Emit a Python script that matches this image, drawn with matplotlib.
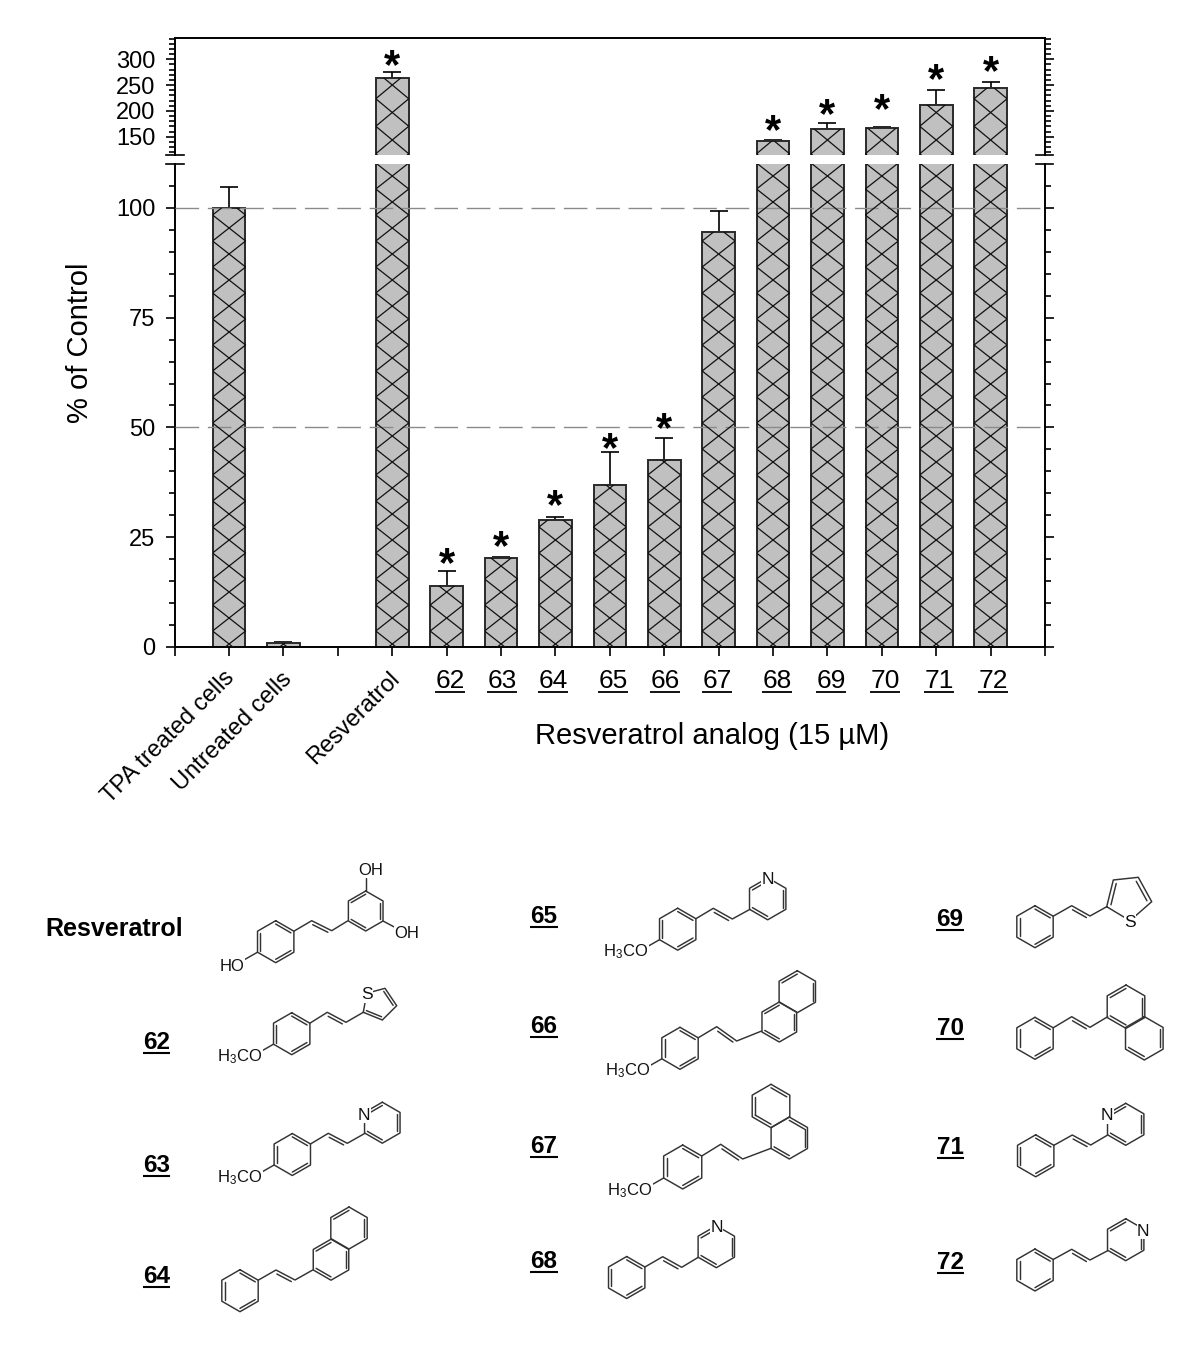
import numpy as np
import matplotlib
matplotlib.use("Agg")
import matplotlib.pyplot as plt
from matplotlib.patches import Rectangle

plt.rcParams['font.family'] = ['Liberation Sans', 'DejaVu Sans']
plt.rcParams['mathtext.default'] = 'regular'

# chart data
names = ["TPA treated cells", "Untreated cells", "Resveratrol", "62", "63", "64", "65", "66",
         "67", "68", "69", "70", "71", "72"]
positions = [1, 2, 4, 5, 6, 7, 8, 9, 10, 11, 12, 13, 14, 15]
values = [100, 1, 263, 13.8, 20.3, 29, 37, 42.5, 94.5, 142, 164, 166, 212, 243.5]
errors = [4.8, 0.2, 13, 3.5, 0.3, 0.6, 7.4, 5.1, 4.8, 1, 13, 3, 29, 12]
significant = [False, False, True, True, True, True, True, True, False, True, True, True, True, True]
star_y = [59, 557, 540, 499, 442, 422, 124, 108, 103, 73, 65]
number_x = [450, 502, 553, 613, 665, 717, 777, 831, 885, 939, 993]
upper_ticks = [150, 200, 250, 300]
lower_ticks = [0, 25, 50, 75, 100]

W, H = 1200, 1366
L, R = 174.7, 1045
fig = plt.figure(figsize=(12, 13.66), dpi=100)


def axes_px(top, bottom):
    return fig.add_axes([L / W, 1 - bottom / H, (R - L) / W, (bottom - top) / H])


ax_low = axes_px(163.5, 647)
ax_up = axes_px(37.7, 155)
ax_low.set_ylim(0, 110.1)
ax_up.set_ylim(114.5, 341.9)

for ax in (ax_low, ax_up):
    ax.set_xlim(0, 16)
    ax.patch.set_alpha(0)
    bars = ax.bar(positions, values, width=0.6, color='#c0c0c0', edgecolor='#2a2a2a', linewidth=1.4, zorder=2)
    ax.errorbar(positions, values, yerr=[np.zeros(len(errors)), errors], fmt='none', ecolor='black',
                elinewidth=1.2, capsize=6.6, capthick=1.2, zorder=1)
    for s in ax.spines.values():
        s.set_linewidth(1.4)
    ax.yaxis.set_ticks_position('both')
    ax.tick_params(axis='y', which='major', direction='out', length=6.5, width=1.2, labelsize=17, pad=7.5, right=True)
    ax.tick_params(axis='y', which='minor', direction='out', length=4, width=1.2, right=True)

ax_low.set_yticks(lower_ticks)
ax_low.set_yticks(np.arange(5, 110, 5), minor=True)
ax_low.set_xticks(np.arange(0, 17))
ax_low.set_xticklabels([])
ax_low.tick_params(axis='x', direction='out', length=6.5, width=1.2)
ax_low.spines['top'].set_visible(False)
for y in (50, 100):
    ax_low.axhline(y, color='#8a8a8a', lw=1, linestyle=(0, (17, 6.3)), zorder=4)

ax_up.set_yticks(upper_ticks)
ax_up.set_yticks(np.arange(120, 341, 10), minor=True)
ax_up.set_xticks([])
ax_up.spines['bottom'].set_visible(False)

# overlay in picture pixels for hatching, labels and structures
pix = fig.add_axes([0, 0, 1, 1])
pix.set_xlim(0, W)
pix.set_ylim(H, 0)
pix.axis('off')
pix.patch.set_alpha(0)

# cross hatch of the bars (wider than a matplotlib hatch tile allows)
hw = 16.5
for ax, y0, period, y_top, y_bot in ((ax_low, 644, 26, 163.5, 647), (ax_up, 85, 27.5, 37.7, 155)):
    for x, val in zip(positions, values):
        cx, yv = ax.transData.transform((x, val))
        top = max(H - yv, y_top)
        if top >= y_bot:
            continue
        clip = Rectangle((cx - hw, top), 2 * hw, y_bot - top, transform=pix.transData)
        for k in np.arange(-40, 40):
            yc = y0 + k * period
            if yc < top - period or yc > y_bot + period:
                continue
            for sign in (1, -1):
                ln, = pix.plot([cx - hw, cx + hw], [yc - sign * period / 2, yc + sign * period / 2],
                               color='#111111', lw=0.9)
                ln.set_clip_path(clip)

# axis break ticks
for x0, x1 in ((165.5, 184), (1035.7, 1053)):
    for y in (155, 163.5):
        pix.plot([x0, x1], [y, y], color='black', lw=1.2)

# stars above the bars
star_x = [p for p, s in zip(positions, significant) if s]
for p, y in zip(star_x, star_y):
    x = ax_low.transData.transform((p, 0))[0]
    pix.text(x, y + 19, "*", fontsize=30, fontweight='bold', ha='center', va='baseline')

pix.text(80, 343, "% of Control", fontsize=21, rotation=90, ha='center', va='center')
pix.text(712, 736, "Resveratrol analog (15 µM)", fontsize=21, ha='center', va='center')

for name, x, y in zip(names[:3], (231, 289, 396), (674, 676, 675)):
    pix.text(x, y, name, fontsize=17, rotation=45, ha='right', va='center', rotation_mode='anchor')

for name, x in zip(names[3:], number_x):
    pix.text(x, 688, name, fontsize=19, ha='center', va='baseline')
    pix.plot([x - 14.7, x + 14.7], [692, 692], color='black', lw=1.3, solid_capstyle='butt')

# structure labels
pix.text(114, 929, "Resveratrol", fontsize=18, fontweight='bold', ha='center', va='center')
compound_labels = [("62", 156.5, 1053), ("63", 156.5, 1175.7), ("64", 156.5, 1287.3),
                   ("65", 543.7, 926.7), ("66", 543.7, 1037), ("67", 543.7, 1157.3), ("68", 543.7, 1272),
                   ("69", 950, 929.7), ("70", 950, 1038.7), ("71", 950.5, 1158.3), ("72", 950.5, 1273)]
for name, x, y in compound_labels:
    pix.text(x, y - 4, name, fontsize=17.5, fontweight='bold', ha='center', va='baseline')
    pix.plot([x - 13.8, x + 13.8], [y, y], color='black', lw=1.5, solid_capstyle='butt')

BOND = dict(color='#333333', lw=1.05, solid_capstyle='round')


def hex_verts(cx, cy, r):
    # 0 top, then clockwise
    a = np.radians(np.arange(6) * 60)
    return np.column_stack([cx + r * np.sin(a), cy - r * np.cos(a)])


def ring(cx, cy, r, doubles):
    v = hex_verts(cx, cy, r)
    closed = np.vstack([v, v[0]])
    pix.plot(closed[:, 0], closed[:, 1], **BOND)
    c = np.array([cx, cy])
    for i in doubles:
        a = v[i] + (c - v[i]) * 0.16
        b = v[(i + 1) % 6] + (c - v[(i + 1) % 6]) * 0.16
        pix.plot([a[0], b[0]], [a[1], b[1]], **BOND)
    return v


def atom(x, y, s, ha='center', size=12):
    pix.text(x, y + 5.9, s, fontsize=size, ha=ha, va='baseline', color='#111111', zorder=5,
             bbox=dict(fc='white', ec='none', pad=0.4))


def phenyl_vinyl(cx, cy, r, p1, p2, p3, methoxy=True):
    v = ring(cx, cy, r, (4, 0, 2))
    pts = np.array([v[1], p1, p2, p3])
    pix.plot(pts[:, 0], pts[:, 1], **BOND)
    d = np.array(p2) - np.array(p1)
    a = np.array(p1) + d * 0.12 + (-1.4, 2.8)
    b = np.array(p2) - d * 0.12 + (-1.4, 2.8)
    pix.plot([a[0], b[0]], [a[1], b[1]], **BOND)
    if methoxy:
        pix.plot([v[4][0], v[4][0] - 14], [v[4][1], v[4][1] + 8], **BOND)
        atom(v[4][0] - 11.5, v[4][1] + 11, "H$_3$CO", ha='right')


def pyridine(cx, cy, r, n_vertex, n_xy=None):
    v = ring(cx, cy, r, (5, 1, 3))
    x, y = n_xy if n_xy else v[n_vertex]
    atom(x, y, "N", size=12.5)


def naphthalene(c1, c2, d1, d2):
    ring(c1[0], c1[1], c1[2], d1)
    ring(c2[0], c2[1], c2[2], d2)


def thiophene(pts):
    pts = np.array(pts)
    closed = np.vstack([pts, pts[0]])
    pix.plot(closed[:, 0], closed[:, 1], **BOND)
    c = pts.mean(axis=0)
    for i, j in ((0, 1), (2, 3)):
        a = pts[i] + (c - pts[i]) * 0.2
        b = pts[j] + (c - pts[j]) * 0.2
        pix.plot([a[0], b[0]], [a[1], b[1]], **BOND)
    atom(pts[4][0], pts[4][1], "S", size=12.5)


# resveratrol
phenyl_vinyl(275.7, 941.7, 21, (311.7, 920.7), (331.7, 930.7), (347.5, 921), methoxy=False)
rv = ring(365.7, 911, 20, (5, 1, 3))
v0 = hex_verts(275.7, 941.7, 21)
pix.plot([rv[0][0], rv[0][0]], [rv[0][1], rv[0][1] - 13], **BOND)
pix.plot([rv[2][0], rv[2][0] + 15], [rv[2][1], rv[2][1] + 8], **BOND)
pix.plot([v0[4][0], v0[4][0] - 14], [v0[4][1], v0[4][1] + 8], **BOND)
atom(371, 869, "OH")
atom(407, 932, "OH")
atom(232, 965, "HO")

# 62-64
phenyl_vinyl(291.7, 1033.7, 21, (327.3, 1012.3), (346, 1022.3), (363.3, 1012.3))
thiophene([(363.3, 1012.3), (382.3, 1020), (396.7, 1005.7), (385, 988.3), (366.7, 993.3)])
phenyl_vinyl(292.3, 1154.5, 21, (328.3, 1133.3), (347.3, 1143.3), (365, 1133.3))
pyridine(382.3, 1122.7, 20.5, 5, (364, 1114))
phenyl_vinyl(240, 1290.7, 21, (276, 1270), (295, 1280), (312.7, 1270), methoxy=False)
naphthalene((331, 1259.7, 20.5), (349, 1228, 21), (5, 1, 3), (5, 1))

# 65-68
phenyl_vinyl(677.7, 929.2, 21, (713.3, 908.3), (732.3, 919), (750, 909.3))
pyridine(767.7, 898.8, 21, 0, (767.7, 878.3))
phenyl_vinyl(680, 1048.3, 21, (716.7, 1026.7), (736.7, 1041), (761.7, 1031))
naphthalene((779.3, 1022, 20), (797.3, 991.7, 21), (5, 1, 3), (5, 1))
phenyl_vinyl(682.7, 1167, 22, (720.7, 1144.3), (742.7, 1159), (771, 1148.3))
naphthalene((789.3, 1138, 21), (771, 1106, 21.7), (0, 1, 3), (4, 0, 3))
phenyl_vinyl(626.7, 1277.5, 21, (662.7, 1256.7), (681.7, 1267.3), (698.3, 1257.3), methoxy=False)
pyridine(716.3, 1246.7, 21, 0, (716.7, 1225.7))

# 69-72
phenyl_vinyl(1035, 926.7, 21, (1071.7, 905.7), (1090, 916), (1106.7, 906.7), methoxy=False)
thiophene([(1106.7, 906.7), (1113.3, 880), (1138.3, 877.3), (1151.7, 901.7), (1130, 920.7)])
phenyl_vinyl(1035, 1038.3, 21, (1071.7, 1016.7), (1090, 1027.3), (1107.7, 1016.7), methoxy=False)
naphthalene((1126, 1006.7, 21.7), (1144.3, 1038.3, 21.7), (5, 1, 3), (1, 3))
phenyl_vinyl(1035.7, 1155.8, 21, (1072.3, 1135), (1090.7, 1145), (1107.7, 1135), methoxy=False)
pyridine(1125.7, 1124.3, 21, 5, (1107.3, 1114.3))
phenyl_vinyl(1035, 1270, 21, (1071.7, 1249.3), (1090, 1260), (1107.7, 1250.7), methoxy=False)
pyridine(1125.7, 1239.7, 21, 1, (1143.3, 1230))

fig.savefig("out.png", dpi=100)
